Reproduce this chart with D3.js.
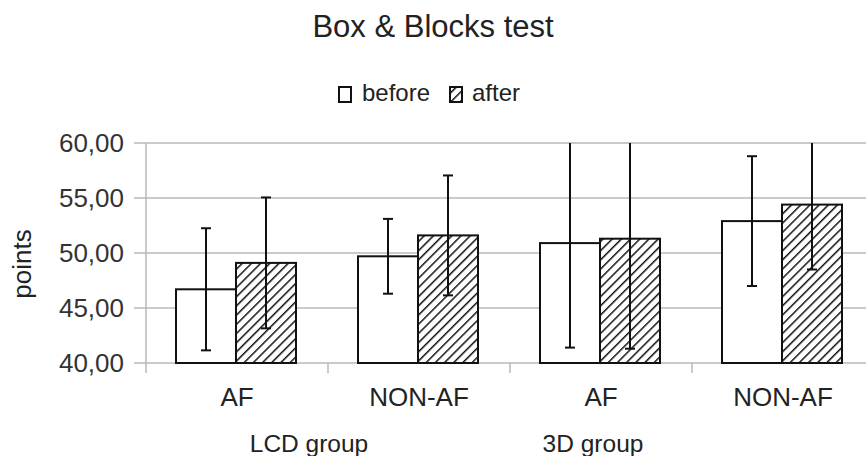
<!DOCTYPE html>
<html>
<head>
<meta charset="utf-8">
<script src="https://cdn.jsdelivr.net/npm/d3@7"></script>
<style>
  html, body { margin: 0; padding: 0; background: #fff; }
  svg { display: block; font-family: "Liberation Sans", Arial, sans-serif; }
</style>
</head>
<body>
<svg id="chart" width="866" height="456"></svg>
<script>
// Box & Blocks test scores, mean ± SD
const categories = ["AF", "NON-AF", "AF", "NON-AF"];
const groups = [
  { label: "LCD group", x: 309 },
  { label: "3D group", x: 593 }
];
const seriesNames = ["before", "after"];
const beforeMeans = [46.7, 49.7, 50.9, 52.9];
const afterMeans  = [49.1, 51.6, 51.3, 54.4];
const beforeSD = [5.55, 3.4, 9.5, 5.9];
const afterSD  = [5.95, 5.45, 10.0, 5.9];
const yTicks = [40, 45, 50, 55, 60];

const svg = d3.select("#chart");
const W = 866, H = 456;
const plotLeft = 146, plotRight = 874, plotTop = 143, plotBottom = 363;

const defs = svg.append("defs");
const pat = defs.append("pattern")
  .attr("id", "hatch")
  .attr("patternUnits", "userSpaceOnUse")
  .attr("width", 6.5).attr("height", 6.5)
  .attr("patternTransform", "rotate(45)");
pat.append("rect").attr("width", 6.5).attr("height", 6.5).attr("fill", "#fff");
pat.append("line")
  .attr("x1", 0).attr("y1", 0).attr("x2", 0).attr("y2", 6.5)
  .attr("stroke", "#111").attr("stroke-width", 3);

defs.append("clipPath").attr("id", "plotClip")
  .append("rect").attr("x", plotLeft).attr("y", plotTop)
  .attr("width", plotRight - plotLeft).attr("height", plotBottom - plotTop);

const x0 = d3.scaleBand().domain(d3.range(categories.length)).range([plotLeft, plotRight]);
const x1 = d3.scaleBand().domain(seriesNames).range([30, 150]);
const y = d3.scaleLinear().domain([40, 60]).range([plotBottom, plotTop]);

// gridlines
svg.append("g").selectAll("line").data(yTicks).join("line")
  .attr("x1", plotLeft - 12).attr("x2", W)
  .attr("y1", d => y(d)).attr("y2", d => y(d))
  .attr("stroke", "#b8b8b8").attr("stroke-width", 1.5);

// y axis line
svg.append("line")
  .attr("x1", plotLeft).attr("x2", plotLeft).attr("y1", plotTop).attr("y2", plotBottom + 10)
  .attr("stroke", "#b8b8b8").attr("stroke-width", 1.5);

// category separators
svg.append("g").selectAll("line").data(d3.range(1, categories.length)).join("line")
  .attr("x1", d => x0(d)).attr("x2", d => x0(d))
  .attr("y1", plotBottom).attr("y2", plotBottom + 10)
  .attr("stroke", "#b8b8b8").attr("stroke-width", 1.5);

// y tick labels
svg.append("g").selectAll("text").data(yTicks).join("text")
  .attr("x", 124).attr("y", d => y(d) + 9)
  .attr("text-anchor", "end")
  .attr("font-size", 26).attr("fill", "#333")
  .text(d => d.toFixed(2).replace(".", ","));

// bars
const rows = categories.map((c, i) => ({
  i,
  values: [
    { s: "before", v: beforeMeans[i], sd: beforeSD[i] },
    { s: "after",  v: afterMeans[i],  sd: afterSD[i] }
  ]
}));

const cat = svg.append("g").selectAll("g").data(rows).join("g")
  .attr("transform", d => `translate(${x0(d.i)},0)`);

cat.selectAll("rect").data(d => d.values).join("rect")
  .attr("x", d => x1(d.s))
  .attr("y", d => y(d.v))
  .attr("width", x1.bandwidth())
  .attr("height", d => y(40) - y(d.v))
  .attr("fill", d => d.s === "before" ? "#fff" : "url(#hatch)")
  .attr("stroke", "#111").attr("stroke-width", 2);

// error bars
const eb = svg.append("g").attr("clip-path", "url(#plotClip)");
rows.forEach(r => {
  r.values.forEach(d => {
    const cx = x0(r.i) + x1(d.s) + x1.bandwidth() / 2;
    const hi = d.v + d.sd, lo = d.v - d.sd;
    eb.append("line").attr("x1", cx).attr("x2", cx)
      .attr("y1", y(hi)).attr("y2", y(lo))
      .attr("stroke", "#111").attr("stroke-width", 2);
    [hi, lo].forEach(e => {
      eb.append("line").attr("x1", cx - 5).attr("x2", cx + 5)
        .attr("y1", y(e)).attr("y2", y(e))
        .attr("stroke", "#111").attr("stroke-width", 2);
    });
  });
});

// category labels
svg.append("g").selectAll("text").data(categories).join("text")
  .attr("x", (d, i) => x0(i) + x0.bandwidth() / 2)
  .attr("y", 406)
  .attr("text-anchor", "middle")
  .attr("font-size", 26).attr("fill", "#222")
  .text(d => d);

// group labels
svg.append("g").selectAll("text").data(groups).join("text")
  .attr("x", d => d.x).attr("y", 452)
  .attr("text-anchor", "middle")
  .attr("font-size", 24.5).attr("fill", "#222")
  .text(d => d.label);

// y axis title
svg.append("text")
  .attr("transform", "translate(31,264) rotate(-90)")
  .attr("text-anchor", "middle")
  .attr("font-size", 26).attr("fill", "#222")
  .text("points");

// title
svg.append("text")
  .attr("x", W / 2).attr("y", 37)
  .attr("text-anchor", "middle")
  .attr("font-size", 31).attr("fill", "#222")
  .text("Box & Blocks test");

// legend
const legend = svg.append("g");
const legendItems = [
  { s: "before", bx: 339, tx: 362 },
  { s: "after",  bx: 450, tx: 472 }
];
legend.selectAll("rect").data(legendItems).join("rect")
  .attr("x", d => d.bx).attr("y", 87).attr("width", 12).attr("height", 15)
  .attr("fill", d => d.s === "before" ? "#fff" : "url(#hatch)")
  .attr("stroke", "#111").attr("stroke-width", 2);
legend.selectAll("text").data(legendItems).join("text")
  .attr("x", d => d.tx).attr("y", 101)
  .attr("font-size", 24).attr("fill", "#222")
  .text(d => d.s);
</script>
</body>
</html>
